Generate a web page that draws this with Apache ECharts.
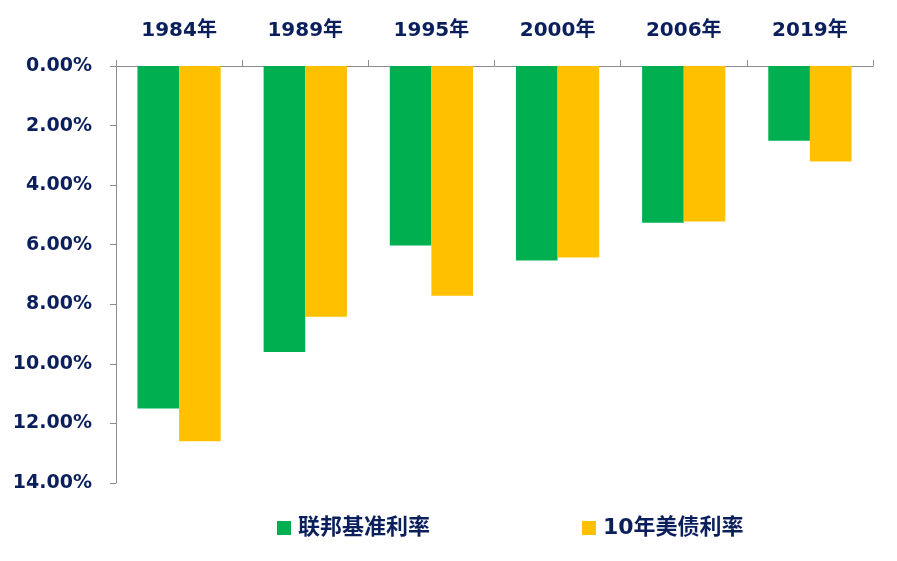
<!DOCTYPE html>
<html>
<head>
<meta charset="utf-8">
<script src="https://cdn.jsdelivr.net/npm/echarts@6/dist/echarts.min.js"></script>
<style>html,body{margin:0;padding:0;background:#fff;}#c{width:897px;height:561px;}</style>
</head>
<body>
<div id="c"></div>
<script>
var categories = ['1984年', '1989年', '1995年', '2000年', '2006年', '2019年'];
var fedRate = [11.5, 9.6, 6.03, 6.53, 5.26, 2.51];
var treasury10y = [12.6, 8.42, 7.71, 6.43, 5.22, 3.21];
var seriesNames = ['联邦基准利率', '10年美债利率'];

var FONT = '"DejaVu Sans", "Noto Sans CJK SC", sans-serif';
var NAVY = '#0B1F5C';
var chart = echarts.init(document.getElementById('c'));
chart.setOption({
  animation: false,
  backgroundColor: '#fff',
  grid: { left: 116, top: 66, right: 24, bottom: 78, containLabel: false },
  legend: {
    bottom: 22, left: 277, padding: 0,
    itemWidth: 14, itemHeight: 14, itemGap: 152,
    icon: 'rect',
    textStyle: { fontFamily: FONT, fontSize: 22, fontWeight: 'bold', color: NAVY, padding: [0, 0, 0, 2] },
    data: seriesNames
  },
  xAxis: {
    type: 'category', position: 'top', data: categories,
    axisLine: { lineStyle: { color: '#8C8C8C', width: 1 } },
    axisTick: { show: true, length: 6, lineStyle: { color: '#8C8C8C' } },
    axisLabel: { fontFamily: FONT, fontSize: 20, fontWeight: 'bold', color: NAVY, margin: 25 }
  },
  yAxis: {
    type: 'value', inverse: true, min: 0, max: 14, interval: 2,
    axisLine: { show: true, lineStyle: { color: '#8C8C8C', width: 1 } },
    axisTick: { show: true, length: 6, lineStyle: { color: '#8C8C8C' } },
    splitLine: { show: false },
    axisLabel: { fontFamily: FONT, fontSize: 19, fontWeight: 'bold', color: NAVY, margin: 24,
      formatter: function (v) { return v.toFixed(2) + '%'; } }
  },
  series: [
    { name: seriesNames[0], type: 'bar', data: fedRate, itemStyle: { color: '#00B050' },
      barGap: '0%', barCategoryGap: '34%' },
    { name: seriesNames[1], type: 'bar', data: treasury10y, itemStyle: { color: '#FFC000' },
      barGap: '0%', barCategoryGap: '34%' }
  ]
});
</script>
</body>
</html>
